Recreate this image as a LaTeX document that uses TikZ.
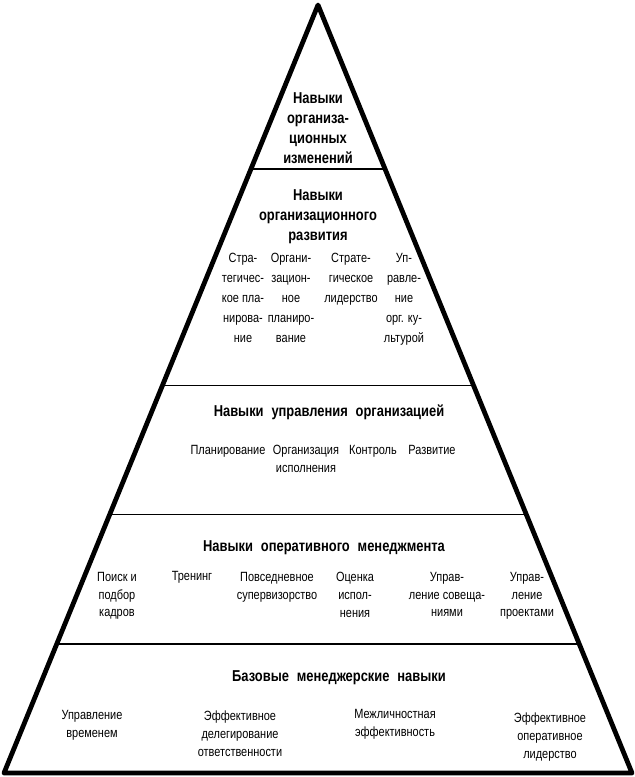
\documentclass[tikz,border=0pt]{standalone}
\usepackage{fontspec}
\setmainfont{Liberation Sans}[FakeStretch=0.82]
\usetikzlibrary{calc}
\newcommand{\wideSpaces}{\spaceskip=0.5em\relax}
\tikzstyle{pyramid} = [x = 0.025cm, y = -0.025cm]
\tikzstyle{sideLine} = [line width = 3.4pt, line join = round]
\tikzstyle{levelLine} = [line width = 1.1pt]
\tikzstyle{levelTitle} = [font=\bfseries\fontsize{11.2}{14.2}\selectfont\wideSpaces, align=center, inner sep=0pt]
\tikzstyle{skillText} = [font=\fontsize{9.5}{12.6}\selectfont, align=center, inner sep=0pt, anchor=north]
\tikzstyle{skillTextTall} = [skillText, font=\fontsize{9.5}{14.2}\selectfont]
\newcommand{\levelBorder}[1]{
  \pgfmathsetmacro{\levelFrac}{(773 - #1) / 769}
  \draw [levelLine] ($(baseLeft)!\levelFrac!(apex)$) -- ($(baseRight)!\levelFrac!(apex)$);
}

\begin{document}
\begin{tikzpicture}[pyramid]
          \useasboundingbox (0,0) rectangle (634,777);
          \coordinate (apex) at (318,5);
          \coordinate (baseLeft) at (4,773);
          \coordinate (baseRight) at (632,773);
          \foreach \y in {168,385,514,644} {
            \levelBorder{\y}
          }
          \draw [sideLine] (baseLeft) -- (apex) -- (baseRight) -- cycle;

          % top level
          \node [levelTitle] (changeTitle) at (318,128) {Навыки\\организа-\\ционных\\изменений};

          % organisational development
          \node [levelTitle] (developTitle) at (318,217) {Навыки\\организационного\\развития};
          \node [skillTextTall] (stratPlan) at (243,253) {Стра-\\тегичес-\\кое пла-\\нирова-\\ние};
          \node [skillTextTall] (orgPlan) at (291,253) {Органи-\\зацион-\\ное\\планиро-\\вание};
          \node [skillTextTall] (stratLead) at (351,253) {Страте-\\гическое\\лидерство};
          \node [skillTextTall] (cultureMgmt) at (404,253) {Уп-\\равле-\\ние\\орг. ку-\\льтурой};

          % organisation management
          \node [levelTitle] (orgTitle) at (329,412) {Навыки управления организацией};
          \node [skillText] (planning) at (228,445) {Планирование};
          \node [skillText] (organising) at (306,445) {Организация\\исполнения};
          \node [skillText] (control) at (373,445) {Контроль};
          \node [skillText] (growth) at (432,445) {Развитие};

          % operational management
          \node [levelTitle] (operTitle) at (324,548) {Навыки оперативного менеджмента};
          \node [skillText] (hiring) at (117,572) {Поиск и\\подбор\\кадров};
          \node [skillText] (training) at (192,571) {Тренинг};
          \node [skillText] (supervision) at (277,572) {Повседневное\\супервизорство};
          \node [skillText] (appraisal) at (355,572) {Оценка\\испол-\\нения};
          \node [skillText] (meetings) at (447,572) {Управ-\\ление совеща-\\ниями};
          \node [skillText] (projects) at (527,572) {Управ-\\ление\\проектами};

          % basic skills
          \node [levelTitle] (baseTitle) at (339,678) {Базовые менеджерские навыки};
          \node [skillText] (timeMgmt) at (92,710) {Управление\\временем};
          \node [skillText] (delegation) at (240,711) {Эффективное\\делегирование\\ответственности};
          \node [skillText] (interpersonal) at (395,709) {Межличностная\\эффективность};
          \node [skillText] (operLead) at (550,713) {Эффективное\\оперативное\\лидерство};
        \end{tikzpicture}
\end{document}
